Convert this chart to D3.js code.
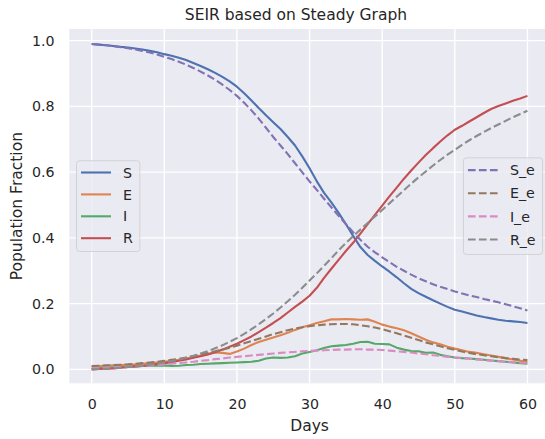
<!DOCTYPE html>
<html>
<head>
<meta charset="utf-8">
<script src="https://cdn.jsdelivr.net/npm/d3@7"></script>
<style>
  html, body { margin: 0; padding: 0; background: #ffffff; }
  svg { display: block; font-family: "DejaVu Sans", sans-serif; }
</style>
</head>
<body>
<svg id="chart" width="545" height="439"></svg>
<script>
// Simulation days
const days = d3.range(0, 61);

// Stochastic run on the steady graph (fractions of the population)
const S = [0.990,0.988,0.986,0.984,0.981,0.979,0.976,0.973,0.969,0.965,0.959,
  0.954,0.948,0.941,0.932,0.923,0.913,0.902,0.890,0.876,0.860,
  0.840,0.818,0.795,0.773,0.752,0.731,0.707,0.681,0.648,0.612,
  0.572,0.537,0.508,0.476,0.442,0.406,0.372,0.348,0.330,0.313,
  0.297,0.280,0.262,0.245,0.232,0.221,0.210,0.200,0.190,0.181,
  0.176,0.170,0.164,0.159,0.155,0.151,0.148,0.146,0.144,0.141];
const E = [0.010,0.010,0.011,0.012,0.013,0.014,0.015,0.017,0.019,0.021,0.023,
  0.026,0.029,0.033,0.037,0.042,0.047,0.051,0.050,0.047,0.054,
  0.063,0.074,0.083,0.090,0.097,0.104,0.111,0.120,0.128,0.134,
  0.141,0.146,0.152,0.152,0.153,0.152,0.151,0.152,0.145,0.136,
  0.130,0.125,0.119,0.110,0.100,0.090,0.082,0.076,0.069,0.063,
  0.058,0.053,0.050,0.046,0.042,0.038,0.034,0.030,0.026,0.022];
const I = [0.003,0.004,0.005,0.006,0.007,0.008,0.009,0.010,0.011,0.011,0.012,
  0.010,0.011,0.013,0.014,0.016,0.017,0.018,0.019,0.020,0.021,
  0.022,0.023,0.026,0.033,0.036,0.035,0.036,0.040,0.048,0.053,
  0.058,0.065,0.070,0.072,0.074,0.078,0.083,0.084,0.078,0.077,
  0.076,0.066,0.060,0.056,0.055,0.050,0.051,0.044,0.040,0.036,
  0.034,0.033,0.031,0.029,0.027,0.025,0.023,0.021,0.019,0.017];
const R = [0.000,0.001,0.002,0.003,0.005,0.007,0.009,0.011,0.013,0.016,0.019,
  0.022,0.026,0.030,0.035,0.040,0.045,0.052,0.060,0.069,0.078,
  0.089,0.100,0.113,0.127,0.141,0.156,0.173,0.190,0.206,0.224,
  0.248,0.278,0.306,0.333,0.360,0.385,0.413,0.442,0.470,0.498,
  0.526,0.553,0.580,0.605,0.629,0.652,0.673,0.693,0.712,0.729,
  0.741,0.754,0.767,0.780,0.792,0.801,0.809,0.817,0.824,0.832];

// Expected (mean-field) values
const S_e = [0.990,0.988,0.986,0.983,0.980,0.977,0.973,0.969,0.964,0.958,0.951,
  0.944,0.936,0.927,0.917,0.906,0.894,0.881,0.866,0.850,0.832,
  0.811,0.788,0.763,0.735,0.707,0.681,0.655,0.627,0.599,0.572,
  0.546,0.519,0.493,0.467,0.442,0.417,0.394,0.373,0.356,0.341,
  0.326,0.312,0.300,0.288,0.277,0.268,0.259,0.251,0.244,0.237,
  0.231,0.225,0.220,0.214,0.209,0.204,0.198,0.192,0.186,0.179];
const E_e = [0.010,0.011,0.012,0.013,0.014,0.015,0.017,0.019,0.021,0.023,0.026,
  0.029,0.032,0.036,0.040,0.045,0.050,0.055,0.060,0.066,0.072,
  0.079,0.086,0.093,0.100,0.107,0.113,0.119,0.124,0.128,0.131,
  0.134,0.136,0.137,0.138,0.138,0.137,0.134,0.131,0.127,0.122,
  0.116,0.110,0.103,0.096,0.089,0.082,0.076,0.070,0.064,0.059,
  0.054,0.050,0.046,0.043,0.040,0.037,0.034,0.032,0.030,0.028];
const I_e = [0.003,0.004,0.005,0.006,0.007,0.008,0.009,0.010,0.012,0.013,0.015,
  0.017,0.019,0.021,0.023,0.026,0.028,0.031,0.033,0.036,0.038,
  0.040,0.042,0.044,0.046,0.048,0.050,0.052,0.053,0.055,0.056,
  0.057,0.058,0.059,0.060,0.060,0.061,0.061,0.060,0.060,0.059,
  0.057,0.055,0.053,0.051,0.048,0.046,0.043,0.041,0.038,0.036,
  0.034,0.032,0.030,0.028,0.026,0.025,0.023,0.022,0.020,0.019];
const R_e = [0.000,0.001,0.002,0.003,0.005,0.007,0.009,0.011,0.014,0.017,0.021,
  0.025,0.030,0.035,0.041,0.048,0.055,0.064,0.073,0.084,0.095,
  0.108,0.122,0.137,0.153,0.170,0.188,0.207,0.227,0.248,0.270,
  0.292,0.315,0.338,0.362,0.384,0.405,0.425,0.445,0.465,0.485,
  0.505,0.525,0.545,0.565,0.584,0.602,0.620,0.637,0.653,0.668,
  0.683,0.697,0.710,0.722,0.734,0.745,0.756,0.767,0.777,0.787];

// Axis ticks
const xTicks = [0, 10, 20, 30, 40, 50, 60];
const xTickLabels = ["0", "10", "20", "30", "40", "50", "60"];
const yTicks = [0.0, 0.2, 0.4, 0.6, 0.8, 1.0];
const yTickLabels = ["0.0", "0.2", "0.4", "0.6", "0.8", "1.0"];

// Series names and seaborn "deep" colours
const solidNames = ["S", "E", "I", "R"];
const solidValues = [S, E, I, R];
const solidColors = ["#4c72b0", "#dd8452", "#55a868", "#c44e52"];
const dashNames = ["S_e", "E_e", "I_e", "R_e"];
const dashValues = [S_e, E_e, I_e, R_e];
const dashColors = ["#8172b3", "#937860", "#da8bc3", "#8c8c8c"];

const svg = d3.select("#chart");
const textColor = "#262626";
const bg = "#eaeaf2";

const plot = { left: 69.3, right: 549.8, top: 29, bottom: 383.3 };
const x = d3.scaleLinear().domain([-3.08, 63.08]).range([plot.left, plot.right]);
const y = d3.scaleLinear().domain([-0.0425, 1.0355]).range([plot.bottom, plot.top]);

// Axes background
svg.append("rect")
  .attr("x", plot.left).attr("y", plot.top)
  .attr("width", plot.right - plot.left).attr("height", plot.bottom - plot.top)
  .attr("fill", bg);

// Grid
const grid = svg.append("g").attr("stroke", "#ffffff").attr("stroke-width", 1.4);
grid.selectAll("line.gx").data(xTicks).join("line")
  .attr("x1", d => x(d)).attr("x2", d => x(d))
  .attr("y1", plot.top).attr("y2", plot.bottom);
grid.selectAll("line.gy").data(yTicks).join("line")
  .attr("x1", plot.left).attr("x2", plot.right)
  .attr("y1", d => y(d)).attr("y2", d => y(d));

// Axes (labels only, no spines or tick marks)
const xAxis = d3.axisBottom(x).tickValues(xTicks)
  .tickFormat((d, i) => xTickLabels[i]).tickSize(0).tickPadding(15.6);
const gx = svg.append("g").attr("transform", `translate(0,${plot.bottom})`).call(xAxis);
gx.select(".domain").remove();
gx.selectAll("text").attr("fill", textColor).style("font-size", "14.2px")
  .style("font-family", "DejaVu Sans");

const yAxis = d3.axisLeft(y).tickValues(yTicks)
  .tickFormat((d, i) => yTickLabels[i]).tickSize(0).tickPadding(14.7);
const gy = svg.append("g").attr("transform", `translate(${plot.left},0)`).call(yAxis);
gy.select(".domain").remove();
gy.selectAll("text").attr("fill", textColor).style("font-size", "14.2px")
  .style("font-family", "DejaVu Sans");

// Lines
const line = vals => d3.line().x((d, i) => x(days[i])).y(d => y(d))(vals);
const lines = svg.append("g").attr("fill", "none");
solidValues.forEach((vals, k) => {
  lines.append("path").attr("d", line(vals))
    .attr("stroke", solidColors[k]).attr("stroke-width", 2.1)
    .attr("stroke-linejoin", "round");
});
dashValues.forEach((vals, k) => {
  lines.append("path").attr("d", line(vals))
    .attr("stroke", dashColors[k]).attr("stroke-width", 2.1)
    .attr("stroke-dasharray", "7.7,3.3");
});

// Titles
svg.append("text").attr("x", 296).attr("y", 19.5)
  .attr("text-anchor", "middle").attr("fill", textColor)
  .style("font-size", "15.5px").text("SEIR based on Steady Graph");
svg.append("text").attr("x", x(30)).attr("y", 431)
  .attr("text-anchor", "middle").attr("fill", textColor)
  .style("font-size", "15.5px").text("Days");
svg.append("text")
  .attr("transform", `translate(22,${(plot.top + plot.bottom) / 2}) rotate(-90)`)
  .attr("text-anchor", "middle").attr("fill", textColor)
  .style("font-size", "15.5px").text("Population Fraction");

// Legends
function legend(names, colors, dashed, side, rowH, firstRow, boxH) {
  const g = svg.append("g");
  const box = g.append("rect").attr("rx", 3).attr("ry", 3)
    .attr("fill", bg).attr("fill-opacity", 0.8)
    .attr("stroke", "#cccccc").attr("stroke-opacity", 0.8).attr("stroke-width", 1);
  const handleX = 4.5, handleLen = 30, textX = handleX + handleLen + 12;
  const texts = [];
  names.forEach((name, i) => {
    const ry = firstRow + i * rowH;
    g.append("line").attr("x1", handleX).attr("x2", handleX + handleLen)
      .attr("y1", ry).attr("y2", ry)
      .attr("stroke", colors[i]).attr("stroke-width", 2.1)
      .attr("stroke-dasharray", dashed ? "7.7,3.3" : null);
    texts.push(g.append("text").attr("x", textX).attr("y", ry + 5.2)
      .attr("fill", textColor).style("font-size", "14.2px").text(name));
  });
  const tw = d3.max(texts, t => t.node().getComputedTextLength());
  const boxW = textX + tw + 7;
  box.attr("width", boxW).attr("height", boxH);
  const bx = side === "left" ? plot.left + 7.2 : plot.right - 7.2 - boxW;
  const by = (plot.top + plot.bottom) / 2 - boxH / 2;
  g.attr("transform", `translate(${bx},${by})`);
}
legend(solidNames, solidColors, false, "left", 21.9, 11.7, 90.7);
legend(dashNames, dashColors, true, "right", 23.1, 12.3, 96.6);
</script>
</body>
</html>
